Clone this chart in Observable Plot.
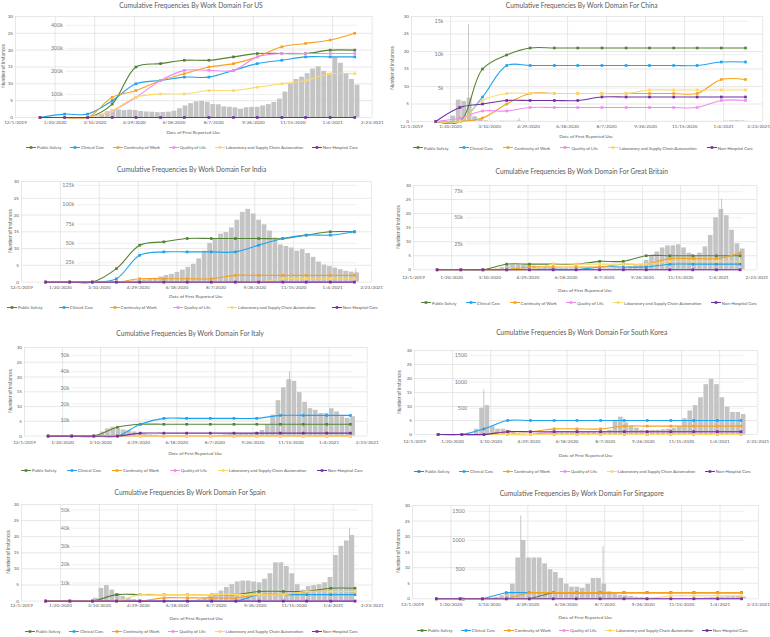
<!DOCTYPE html>
<html><head><meta charset="utf-8">
<script src="https://cdn.jsdelivr.net/npm/d3@7"></script>
<script src="https://cdn.jsdelivr.net/npm/@observablehq/plot@0.6"></script>
<style>
body{margin:0;background:#fff;}
#root{position:relative;width:770px;height:637px;overflow:hidden;background:#fff;font-family:Lato,"Open Sans",sans-serif;color:#595959;}
.abs{position:absolute;white-space:nowrap;}
.title{font-size:6.7px;transform:translate(-50%,-50%);}
.xtitle{font-size:4.6px;transform:translate(-50%,-50%);}
.ytitle{font-size:4.8px;transform:translate(-50%,-50%) rotate(-90deg);}
.legend{display:flex;justify-content:space-between;align-items:center;font-size:4.3px;transform:translateY(-50%);}
.legend span{display:flex;align-items:center;gap:1px;}
</style></head><body><div id="root"></div>
<script>
// ---------- shared categories ----------
const domains = ["Public Safety","Clinical Care","Continuity of Work","Quality of Life","Laboratory and Supply Chain Automation","Non-Hospital Care"];
const domainColors = ["#548235","#1fa3ec","#f7a11d","#f28af0","#fbd968","#7030a0"];
const pointDates = ["2020-01-01","2020-02-01","2020-03-01","2020-04-01","2020-05-01","2020-06-01","2020-07-01","2020-08-01","2020-09-01","2020-10-01","2020-11-01","2020-12-01","2021-01-01","2021-02-01"];
const xTickDates = ["2019-12-01","2020-01-20","2020-03-10","2020-04-29","2020-06-18","2020-08-07","2020-09-26","2020-11-15","2021-01-04","2021-02-23"];
const yTicks = [0,5,10,15,20,25,30];
const firstWeek = "2020-01-20"; // weekly case bars start (Mondays) through 2021-02-01

// ---------- US ----------
const usInstances = [
  [0,0,0,4,15,16,17,17,18,19,19,19,20,20],
  [0,1,1,5,10,11,12,12,14,16,17,18,18,18],
  [0,0,0,6,8,11,13,15,16,18,21,22,23,25],
  [0,0,0,2,6,11,14,14,14,18,19,19,19,19],
  [0,0,0,2,6,7,7,8,8,9,10,11,13,13],
  [0,0,0,0,0,0,0,0,0,0,0,0,0,0]];
const usCases = [0,0,0,0,0,0,300,2000,10000,25000,32000,33000,30000,32000,30000,26000,24000,23000,21000,22000,23000,27000,38000,50000,60000,68000,70000,66000,56000,55000,46000,44000,42000,36000,42000,44000,44000,50000,56000,65000,80000,110000,145000,165000,175000,190000,210000,220000,200000,190000,260000,235000,190000,165000,140000];
const usSpikes = [];
const usCaseTicks = [100000,200000,300000,400000];
const usCaseLabels = ["100k","200k","300k","400k"];
const usCaseTop = 438000;

// ---------- China ----------
const chinaInstances = [
  [0,0,15,19,21,21,21,21,21,21,21,21,21,21],
  [0,0,7,16,16,16,16,16,16,16,16,16,17,17],
  [0,0,1,5,8,8,8,8,8,8,8,8,12,12],
  [0,1,3,3,4,4,4,4,4,4,4,4,6,6],
  [0,0,6,8,8,8,8,8,8,9,9,9,9,9],
  [0,4,5,6,6,6,6,7,7,7,7,7,7,7]];
const chinaCases = [800,3200,3000,3500,700,350,100,30,30,60,50,50,80,30,10,5,10,10,5,5,10,20,20,10,10,10,10,50,30,20,20,15,10,10,10,10,15,20,15,20,20,20,15,15,15,20,20,20,20,25,60,100,120,90,30];
const chinaSpikes = [["2020-02-12",14500],["2020-04-17",450]];
const chinaCaseTicks = [5000,10000,15000];
const chinaCaseLabels = ["5k","10k","15k"];
const chinaCaseTop = 15700;

// ---------- India ----------
const indiaInstances = [
  [0,0,0,4,11,12,13,13,13,13,13,14,15,15],
  [0,0,0,1,8,9,9,9,9,11,13,14,14,15],
  [0,0,0,0,1,1,1,1,2,2,2,2,2,2],
  [0,0,0,0,0,0,0,0,0,0,0,0,0,0],
  [0,0,0,0,0,0,0,0,0,0,1,1,1,1],
  [0,0,0,0,0,0,0,0,0,0,0,0,0,0]];
const indiaCases = [0,0,0,0,0,0,10,20,50,100,400,800,1000,1400,1800,3000,3800,5000,6500,8500,10000,12500,15500,19000,23000,30000,40000,50000,55000,62000,64000,70000,80000,90000,94000,88000,80000,74000,66000,57000,48000,46000,44000,40000,42000,37000,32000,26000,22000,20000,18000,16000,14000,13000,12000];
const indiaSpikes = [["2021-02-03",17000]];
const indiaCaseTicks = [25000,50000,75000,100000,125000];
const indiaCaseLabels = ["25k","50k","75k","100k","125k"];
const indiaCaseTop = 130000;

// ---------- Great Britain ----------
const gbInstances = [
  [0,0,0,2,2,2,2,3,3,5,5,5,5,5],
  [0,0,0,0,0,0,0,1,1,1,2,2,2,2],
  [0,0,0,0,1,1,1,1,2,2,4,4,4,6],
  [0,0,0,0,0,0,0,0,0,0,0,0,0,0],
  [0,0,0,0,0,2,2,2,2,2,3,3,3,3],
  [0,0,0,0,0,0,0,0,0,0,0,0,0,0]];
const gbCases = [0,0,0,0,0,0,30,200,800,2000,3800,4800,4600,4500,4000,3500,3000,2400,1800,1500,1200,1100,900,700,600,600,700,800,900,1000,1100,1200,1900,3000,3800,5500,9000,14000,17000,21000,23000,23000,24000,21000,16000,14000,16000,22000,33000,50000,58000,52000,38000,25000,20000];
const gbSpikes = [["2021-01-08",68000]];
const gbCaseTicks = [25000,50000,75000];
const gbCaseLabels = ["25k","50k","75k"];
const gbCaseTop = 81000;

// ---------- Italy ----------
const italyInstances = [
  [0,0,0,3,4,4,4,4,4,4,4,4,4,4],
  [0,0,0,0,4,6,6,6,6,6,7,7,7,7],
  [0,0,0,0,0,0,0,0,0,0,0,0,0,0],
  [0,0,0,0,0,0,0,0,0,0,0,0,0,0],
  [0,0,0,0,0,0,0,0,0,0,0,0,0,0],
  [0,0,0,0,1,1,1,1,1,1,1,1,1,1]];
const italyCases = [0,0,0,0,0,200,800,2500,4500,5500,4500,3800,3200,2600,1600,1100,800,600,400,300,300,250,200,200,200,200,250,350,400,500,800,1200,1400,1500,1600,1600,2200,3500,7000,13000,22000,30000,35000,34000,27000,21000,17000,16000,14000,14000,17000,15000,12000,11000,12000];
const italySpikes = [["2020-11-13",40000]];
const italyCaseTicks = [10000,20000,30000,40000,50000];
const italyCaseLabels = ["10k","20k","30k","40k","50k"];
const italyCaseTop = 55000;

// ---------- South Korea ----------
const koreaInstances = [
  [0,0,0,0,0,0,0,0,0,0,0,0,0,0],
  [0,0,2,5,5,5,5,5,5,5,5,5,5,5],
  [0,0,0,1,1,2,2,2,3,3,3,3,3,3],
  [0,0,0,0,0,1,1,1,1,1,1,1,1,1],
  [0,0,0,0,0,0,0,0,0,0,0,0,0,0],
  [0,0,0,1,1,1,1,1,1,1,1,1,1,1]];
const koreaCases = [1,2,2,1,100,500,550,150,100,100,80,40,15,10,8,10,25,20,35,45,45,45,45,50,45,40,50,30,35,80,250,330,220,150,120,80,70,80,80,90,100,120,150,300,450,550,700,950,1050,950,700,520,420,420,380];
const koreaSpikes = [["2020-03-01",850]];
const koreaCaseTicks = [500,1000,1500];
const koreaCaseLabels = ["500","1000","1500"];
const koreaCaseTop = 1600;

// ---------- Spain ----------
const spainInstances = [
  [0,0,0,2,2,2,2,2,2,3,3,3,4,4],
  [0,0,0,0,0,0,0,0,0,2,2,2,2,2],
  [0,0,0,0,0,1,1,1,1,2,2,3,3,3],
  [0,0,0,0,0,0,0,0,0,0,0,0,0,0],
  [0,0,0,0,2,2,2,2,2,2,2,3,3,3],
  [0,0,0,0,0,0,0,0,0,0,0,0,0,0]];
const spainCases = [0,0,0,0,0,0,1500,7000,8500,6000,4000,2500,1500,800,500,300,100,100,100,100,100,100,100,100,300,800,1500,2500,4000,5500,7500,9000,10500,11000,11000,10500,10000,12000,15000,21000,21000,19000,15000,9000,6000,8000,8500,9000,10000,13000,25000,30000,33000,36000,0];
const spainSpikes = [["2021-01-25",40000]];
const spainCaseTicks = [10000,20000,30000,40000,50000];
const spainCaseLabels = ["10k","20k","30k","40k","50k"];
const spainCaseTop = 53000;

// ---------- Singapore ----------
const singaporeInstances = [
  [0,0,0,0,0,2,2,2,2,2,2,2,2,2],
  [0,0,0,2,2,2,2,2,2,2,2,2,2,2],
  [0,0,0,0,2,2,2,2,2,2,2,2,2,2],
  [0,0,0,0,0,0,0,0,0,0,0,0,0,0],
  [0,0,0,0,0,0,0,0,0,0,1,1,1,1],
  [0,0,0,0,0,0,0,0,0,0,0,0,0,0]];
const singaporeCases = [2,3,5,4,2,2,5,10,25,50,80,250,700,1000,700,700,700,600,500,450,350,250,200,200,180,250,350,350,250,120,80,60,50,40,25,20,15,10,10,8,8,8,8,8,8,8,10,15,20,25,30,35,40,40,30];
const singaporeSpikes = [["2020-04-20",1420],["2020-08-05",900]];
const singaporeCaseTicks = [0,500,1000,1500];
const singaporeCaseLabels = ["0","500","1000","1500"];
const singaporeCaseTop = 1600;

// ---------- layout (positions only) ----------
const panels = [
  {country:"US", inst:usInstances, cases:usCases, spikes:usSpikes, ticks:usCaseTicks, labels:usCaseLabels, top:usCaseTop,
   L:{left:15,right:371.7,top:15.7,bottom:116.7,titleX:191,titleY:4.7,tickY:122.3,axisY:132.3,legY:147.3,legX1:26,legX2:358,yTitleX:3,secLabel:"2020-01-30",lastDx:0}},
  {country:"China", inst:chinaInstances, cases:chinaCases, spikes:chinaSpikes, ticks:chinaCaseTicks, labels:chinaCaseLabels, top:chinaCaseTop,
   L:{left:410.5,right:761.7,top:15.7,bottom:120.7,titleX:581.7,titleY:4.7,tickY:126.7,axisY:135.7,legY:147.7,legX1:413,legX2:753,yTitleX:392,secLabel:"2020-01-11",lastDx:-4}},
  {country:"India", inst:indiaInstances, cases:indiaCases, spikes:indiaSpikes, ticks:indiaCaseTicks, labels:indiaCaseLabels, top:indiaCaseTop,
   L:{left:21,right:371,top:180.7,bottom:281.3,titleX:191.7,titleY:169.3,tickY:287,axisY:296.3,legY:307,legX1:7,legX2:378,yTitleX:10,secLabel:"2020-02-07",lastDx:0}},
  {country:"Great Britain", inst:gbInstances, cases:gbCases, spikes:gbSpikes, ticks:gbCaseTicks, labels:gbCaseLabels, top:gbCaseTop,
   L:{left:413.3,right:756.7,top:184.7,bottom:269,titleX:581.7,titleY:170.7,tickY:277.3,axisY:290,legY:302.7,legX1:421,legX2:757,yTitleX:398.3,secLabel:"2020-02-04",lastDx:0}},
  {country:"Italy", inst:italyInstances, cases:italyCases, spikes:italySpikes, ticks:italyCaseTicks, labels:italyCaseLabels, top:italyCaseTop,
   L:{left:24,right:366.7,top:346.7,bottom:435.3,titleX:190,titleY:333.3,tickY:442.3,axisY:452.7,legY:470.3,legX1:21,legX2:363,yTitleX:10,secLabel:"2020-01-29",lastDx:0}},
  {country:"South Korea", inst:koreaInstances, cases:koreaCases, spikes:koreaSpikes, ticks:koreaCaseTicks, labels:koreaCaseLabels, top:koreaCaseTop, psColor:"#4a76c4",
   L:{left:414,right:757.3,top:350,bottom:434,titleX:581.7,titleY:332.3,tickY:441.7,axisY:454.7,legY:471,legX1:414,legX2:751,yTitleX:399,secLabel:"2020-02-08",lastDx:0}},
  {country:"Spain", inst:spainInstances, cases:spainCases, spikes:spainSpikes, ticks:spainCaseTicks, labels:spainCaseLabels, top:spainCaseTop,
   L:{left:21,right:371.7,top:503.7,bottom:600.3,titleX:190,titleY:492.3,tickY:605.7,axisY:618.3,legY:631,legX1:25,legX2:358,yTitleX:8.3,secLabel:"2020-02-01",lastDx:0}},
  {country:"Singapore", inst:singaporeInstances, cases:singaporeCases, spikes:singaporeSpikes, ticks:singaporeCaseTicks, labels:singaporeCaseLabels, top:singaporeCaseTop, linear:true,
   L:{left:412.3,right:758.3,top:504.7,bottom:598,titleX:581.7,titleY:493,tickY:604.7,axisY:617.3,legY:630,legX1:417,legX2:748,yTitleX:398.3,secLabel:"2020-02-07",lastDx:0}}
];

const root = document.getElementById("root");
const parse = d3.utcParse("%Y-%m-%d");
const fmt = d3.utcFormat("%-m/%-d/%Y");
const xDomain = [parse(xTickDates[0]), parse(xTickDates[xTickDates.length-1])];
const xTicks = xTickDates.map(parse);
const weekStarts = d3.utcMonday.range(parse(firstWeek), parse("2021-02-02"));
const secEnd = parse("2021-02-05");

function div(cls, x, y, text, extra) {
  const d = document.createElement("div");
  d.className = "abs " + cls;
  d.style.left = x + "px"; d.style.top = y + "px";
  if (text != null) d.textContent = text;
  if (extra) Object.assign(d.style, extra);
  root.appendChild(d);
  return d;
}

for (const p of panels) {
  const L = p.L;
  const colors = domainColors.map((c,i) => (i === 0 && p.psColor) ? p.psColor : c);
  const fs = 4.6;
  const mL = 18, mR = 8, mT = 8, mB = (L.tickY - L.bottom) + 6;
  const W = (L.right - L.left) + mL + mR;
  const H = (L.bottom - L.top) + mT + mB;
  const toU = v => v / p.top * 30;
  const weeks = weekStarts.map((d,i) => ({x1:d, x2:d3.utcDay.offset(d,7), v:p.cases[i]}));
  const spikes = p.spikes.map(([d,v]) => ({x1:parse(d), x2:d3.utcDay.offset(parse(d),1), v}));
  const secLabel = parse(L.secLabel);
  const secStart = d3.utcDay.offset(secLabel, 4);
  const marks = [
    Plot.gridY({ticks: yTicks, stroke:"#d9d9d9", strokeOpacity:1, strokeWidth:0.6}),
    Plot.gridX({ticks: xTicks, stroke:"#d9d9d9", strokeOpacity:1, strokeWidth:0.6}),
    Plot.ruleY(p.ticks, {y: toU, x1: () => secStart, x2: () => secEnd, stroke:"#e4e4e4", strokeWidth:0.6}),
    Plot.text(p.ticks, {x: () => secLabel, y: toU, text: (d,i) => p.labels[i], textAnchor:"end", fontSize:5.4, fill:"#7a7a7a"}),
    Plot.rectY(weeks, {x1:"x1", x2:"x2", y: d => toU(d.v), fill:"#c4c4c4", insetLeft:0.35, insetRight:0.35}),
    Plot.rectY(spikes, {x1:"x1", x2:"x2", y: d => toU(d.v), fill:"#b8b8b8"})
  ];
  domains.forEach((name,k) => {
    const pts = p.inst[k].map((v,i) => ({date:parse(pointDates[i]), v}));
    marks.push(Plot.line(pts, {x:"date", y:"v", stroke:colors[k], strokeWidth:1.1, curve: p.linear ? "linear" : "catmull-rom"}));
    marks.push(Plot.dot(pts, {x:"date", y:"v", fill:colors[k], stroke:null, symbol:"square", r:1.5}));
  });
  const pad = (L.tickY - L.bottom) - 0.55*fs;
  marks.push(Plot.axisY({ticks: yTicks, tickSize:0, tickPadding:2.5, fontSize:fs, label:null}));
  marks.push(Plot.axisX({ticks: xTicks.slice(0,-1), tickSize:0, tickPadding:pad, tickFormat: fmt, fontSize:fs, label:null}));
  marks.push(Plot.axisX({ticks: xTicks.slice(-1), tickSize:0, tickPadding:pad, tickFormat: fmt, fontSize:fs, label:null, dx:L.lastDx}));
  const svg = Plot.plot({
    width: W, height: H, marginLeft: mL, marginRight: mR, marginTop: mT, marginBottom: mB,
    x: {type:"utc", domain: xDomain},
    y: {domain:[0,30]},
    style: {fontFamily:"Lato, 'Open Sans', sans-serif", color:"#595959", background:"transparent", overflow:"visible"},
    marks
  });
  svg.style.position = "absolute";
  svg.style.left = (L.left - mL) + "px";
  svg.style.top = (L.top - mT) + "px";
  root.appendChild(svg);

  div("title", L.titleX, L.titleY, "Cumulative Frequencies By Work Domain For " + p.country);
  div("xtitle", (L.left + L.right)/2, L.axisY, "Date of First Reported Use");
  div("ytitle", L.yTitleX, (L.top + L.bottom)/2, "Number of Instances");
  const leg = div("legend", L.legX1, L.legY, null, {width:(L.legX2 - L.legX1) + "px"});
  domains.forEach((name,k) => {
    const s = document.createElement("span");
    s.innerHTML = `<svg width="10" height="4" style="overflow:visible"><line x1="0" x2="10" y1="2" y2="2" stroke="${colors[k]}" stroke-width="1"/><rect x="3.7" y="0.7" width="2.6" height="2.6" fill="${colors[k]}"/></svg>`;
    s.appendChild(document.createTextNode(name));
    leg.appendChild(s);
  });
}
</script></body></html>
